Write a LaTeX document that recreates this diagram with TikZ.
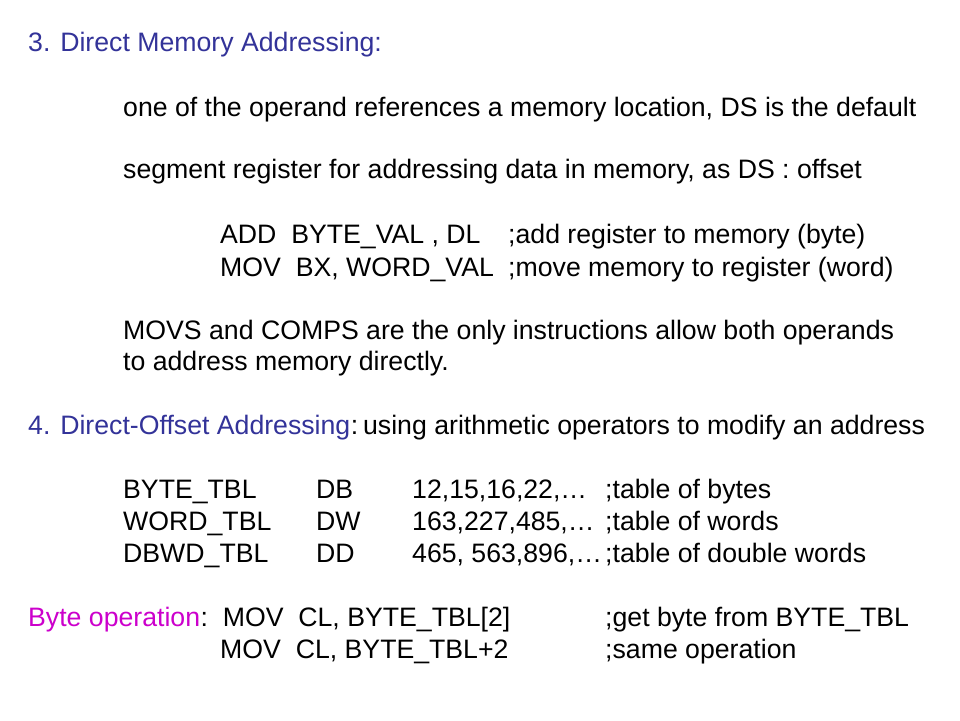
\documentclass[tikz,border=0pt]{standalone}
\usepackage{fontspec}
\setmainfont{Liberation Sans}
\definecolor{headblue}{HTML}{333399}
\definecolor{opmagenta}{HTML}{CC00CC}
\begin{document}
\begin{tikzpicture}
[x=1pt,y=-1pt,
  textline/.style={anchor=base west,inner sep=0pt,font=\fontsize{26.67}{30}\selectfont},
  headline/.style={textline,text=headblue},
  opline/.style={textline,text=opmagenta}]
\useasboundingbox[fill=white] (0,0) rectangle (960,720);
%% headings
\node (head3) at (28,51) [headline] {3. Direct Memory Addressing:};
\node (head4) at (28,434) [headline] {4. Direct-Offset Addressing};
\node (head4rest) at (head4.base east) [textline] {:\hspace{5pt}using arithmetic operators to modify an address};
\node (byteop) at (28,626) [opline] {Byte operation};
\node (byteoprest) at (byteop.base east) [textline] {:\ \ MOV\ \ CL, BYTE\_TBL[2]};
%% plain text lines
\foreach \nodename/\x/\y/\txt in {
  desca/123/116/{one of the operand references a memory location, DS is the default},
  descb/123/178/{segment register for addressing data in memory, as DS : offset},
  adda/220/243/{ADD\ \ BYTE\_VAL , DL},
  addb/508/243/{;add register to memory (byte)},
  mova/220/276/{MOV\ \ BX, WORD\_VAL},
  movb/508/276/{;move memory to register (word)},
  movsa/123/339/{MOVS and COMPS are the only instructions allow both operands},
  movsb/123/370/{to address memory directly.},
  %% table definitions
  tbla/123/498/{BYTE\_TBL}, tblb/316/498/{DB}, tblc/412/498/{12,15,16,22,… },
  tbld/605/498/{;table of bytes},
  tble/123/530/{WORD\_TBL}, tblf/316/530/{DW}, tblg/412/530/{163,227,485,…},
  tblh/605/530/{;table of words},
  tbli/123/562/{DBWD\_TBL}, tblj/316/562/{DD}, tblk/412/562/{465, 563,896,…},
  tbll/605/562/{;table of double words},
  %% byte operation
  opa/605/626/{;get byte from BYTE\_TBL},
  opb/220/658/{MOV\ \ CL, BYTE\_TBL+2},
  opc/605/658/{;same operation}}
{
  \node (\nodename) at (\x,\y) [textline] {\txt};
}
\end{tikzpicture}
\end{document}
